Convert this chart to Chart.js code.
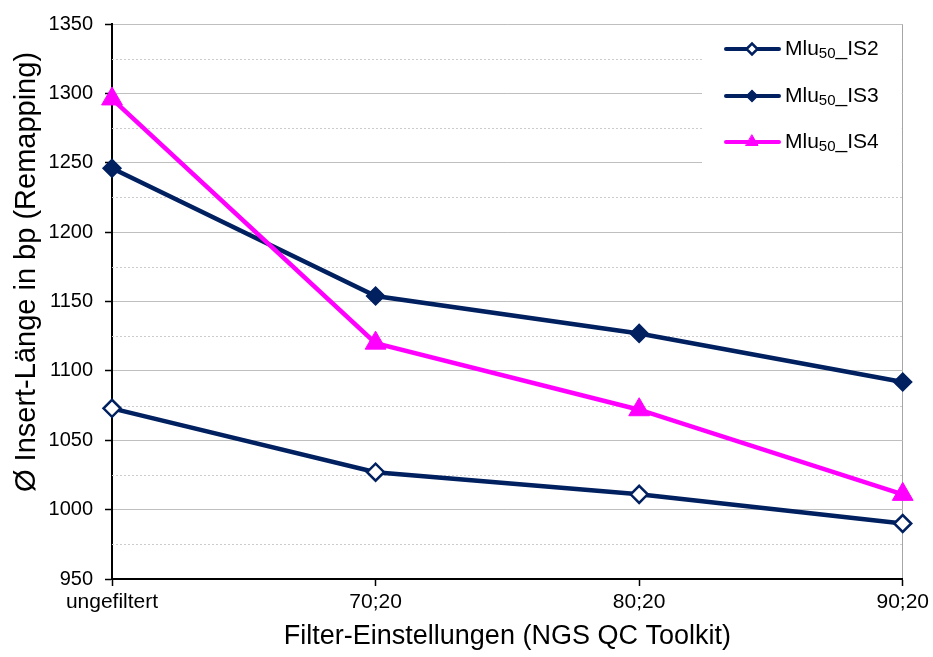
<!DOCTYPE html>
<html>
<head>
<meta charset="utf-8">
<script src="https://cdn.jsdelivr.net/npm/chart.js@4/dist/chart.umd.min.js"></script>
<style>
  html, body { margin: 0; padding: 0; background: #fff; }
  #wrap { width: 933px; height: 657px; }
</style>
</head>
<body>
<div id="wrap"><canvas id="myChart" width="933" height="657"></canvas></div>
<script>
'use strict';

let filterSettings = [ 'ungefiltert', '70;20', '80;20', '90;20' ];

// insert lengths per library
let is2Values = [ 1073, 1027, 1011, 990 ];
let is3Values = [ 1246, 1154, 1127, 1092 ];
let is4Values = [ 1296, 1120, 1072, 1011 ];

// legend label pieces: prefix, subscript, suffix
let seriesNames = [
  [ 'Mlu', '50', '_IS2' ],
  [ 'Mlu', '50', '_IS3' ],
  [ 'Mlu', '50', '_IS4' ]
];

let yMin = 950;
let yMax = 1350;
let yMajorStep = 50;
let yMinorStep = 25;

let xTitle = 'Filter-Einstellungen (NGS QC Toolkit)';
let yTitle = 'Ø Insert-Länge in bp (Remapping)';

const NAVY = '#002060';
const PINK = '#ff00ff';
const FONT = '"Liberation Sans", Arial, sans-serif';

// dotted minor grid lines between the labelled ticks
const minorGrid = {
  id: 'minorGrid',
  beforeDatasetsDraw( chart ) {
    let ctx = chart.ctx;
    let y = chart.scales.y;
    let area = chart.chartArea;
    ctx.save();
    ctx.strokeStyle = '#cccccc';
    ctx.lineWidth = 1;
    ctx.setLineDash( [ 2, 2 ] );
    for( let v = yMin + yMinorStep; v < yMax; v += yMajorStep ) {
      let py = Math.round( y.getPixelForValue( v ) ) + 0.5;
      ctx.beginPath();
      ctx.moveTo( area.left, py );
      ctx.lineTo( area.right, py );
      ctx.stroke();
    }
    ctx.restore();
  }
};

// rotated y title, legend box in the top right corner
const extras = {
  id: 'extras',
  afterDraw( chart ) {
    let ctx = chart.ctx;
    let area = chart.chartArea;

    ctx.save();
    ctx.translate( 27, 272 );
    ctx.rotate( -Math.PI / 2 );
    ctx.font = '29px ' + FONT;
    ctx.fillStyle = '#000';
    ctx.textAlign = 'center';
    ctx.textBaseline = 'middle';
    ctx.fillText( yTitle, 0, 0 );
    ctx.restore();

    let boxLeft = 702;
    ctx.save();
    ctx.fillStyle = '#fff';
    ctx.fillRect( boxLeft, area.top + 1, area.right - boxLeft - 1, 155 );

    let rows = [ 49, 96, 142 ];
    chart.data.datasets.forEach( ( ds, i ) => {
      let ry = rows[i];
      ctx.strokeStyle = ds.borderColor;
      ctx.lineWidth = 4;
      ctx.lineCap = 'round';
      ctx.beginPath();
      ctx.moveTo( 726, ry );
      ctx.lineTo( 779, ry );
      ctx.stroke();

      ctx.fillStyle = ds.pointBackgroundColor;
      ctx.strokeStyle = ds.pointBorderColor;
      ctx.lineWidth = ds.pointBorderWidth;
      Chart.helpers.drawPoint( ctx, {
        pointStyle: ds.pointStyle,
        radius: ds.pointStyle === 'triangle' ? 7 : 5.5,
        rotation: 0,
        borderWidth: ds.pointBorderWidth
      }, 752, ry );

      let parts = seriesNames[i];
      let x = 785;
      ctx.fillStyle = '#000';
      ctx.textBaseline = 'middle';
      ctx.textAlign = 'left';
      ctx.font = '21px ' + FONT;
      ctx.fillText( parts[0], x, ry );
      x += ctx.measureText( parts[0] ).width;
      ctx.font = '15px ' + FONT;
      ctx.fillText( parts[1], x, ry + 5 );
      x += ctx.measureText( parts[1] ).width;
      ctx.font = '21px ' + FONT;
      ctx.fillText( parts[2], x, ry );
    } );
    ctx.restore();
  }
};

let ctx = document.getElementById( 'myChart' ).getContext( '2d' );

let myChart = new Chart( ctx, {
  type: 'line',
  data: {
    labels: filterSettings,
    datasets: [
      {
        label: 'Mlu50_IS2',
        data: is2Values,
        borderColor: NAVY,
        borderWidth: 4.5,
        pointStyle: 'rectRot',
        pointRadius: 8.5,
        pointBorderWidth: 2.5,
        pointBackgroundColor: '#fff',
        pointBorderColor: NAVY,
        order: 3,
        clip: false
      },
      {
        label: 'Mlu50_IS3',
        data: is3Values,
        borderColor: NAVY,
        borderWidth: 4.5,
        pointStyle: 'rectRot',
        pointRadius: 9,
        pointBorderWidth: 1.5,
        pointBackgroundColor: NAVY,
        pointBorderColor: NAVY,
        order: 2,
        clip: false
      },
      {
        label: 'Mlu50_IS4',
        data: is4Values,
        borderColor: PINK,
        borderWidth: 4.5,
        pointStyle: 'triangle',
        pointRadius: 12,
        pointBorderWidth: 1,
        pointBackgroundColor: PINK,
        pointBorderColor: PINK,
        order: 1,
        clip: false
      }
    ]
  },
  options: {
    responsive: false,
    animation: false,
    layout: {
      padding: { top: 20, right: 28, left: 0, bottom: 0 }
    },
    elements: {
      line: { tension: 0 }
    },
    plugins: {
      legend: { display: false },
      tooltip: { enabled: false }
    },
    scales: {
      x: {
        offset: false,
        afterFit( scale ) { scale.height = 78; },
        grid: {
          color: ( c ) => c.index === filterSettings.length - 1 ? '#a6a6a6' : 'rgba(0,0,0,0)',
          tickColor: '#000',
          tickLength: 7,
          tickWidth: 1.5
        },
        border: { color: '#000', width: 2 },
        ticks: {
          color: '#000',
          font: { family: FONT, size: 21 },
          padding: 4,
          maxRotation: 0
        },
        title: {
          display: true,
          text: xTitle,
          color: '#000',
          font: { family: FONT, size: 27 },
          padding: { top: 0, bottom: 4 }
        }
      },
      y: {
        min: yMin,
        max: yMax,
        afterFit( scale ) { scale.width = 112; },
        grid: {
          color: ( c ) => c.tick && c.tick.value % yMajorStep === 0 ? '#bfbfbf' : 'rgba(0,0,0,0)',
          tickColor: ( c ) => c.tick && c.tick.value % yMajorStep === 0 ? '#000' : 'rgba(0,0,0,0)',
          tickLength: 7,
          tickWidth: 1.5
        },
        border: { color: '#000', width: 2 },
        ticks: {
          stepSize: yMinorStep,
          autoSkip: false,
          color: '#000',
          font: { family: FONT, size: 20 },
          padding: 12,
          callback: ( v ) => v % yMajorStep === 0 ? v : ''
        }
      }
    }
  },
  plugins: [ minorGrid, extras ]
} );
</script>
</body>
</html>
